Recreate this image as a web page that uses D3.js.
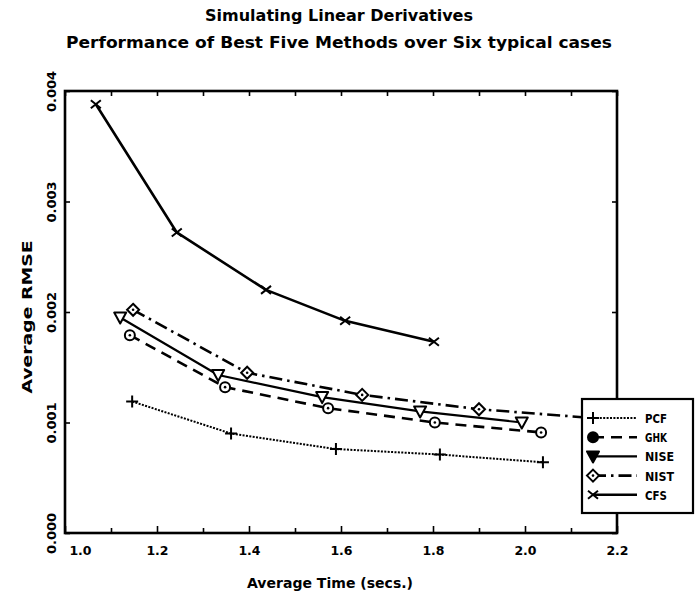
<!DOCTYPE html>
<html><head><meta charset="utf-8">
<script src="https://cdn.jsdelivr.net/npm/d3@7/dist/d3.min.js"></script>
<style>body{margin:0;background:#fff}svg{display:block}</style>
</head><body>
<svg id="chart" width="698" height="602"></svg>
<script>
// Method names, in legend order
const methods = ["PCF", "GHK", "NISE", "NIST", "CFS"];

// Average time (secs.) per setting, for each method
const pcfTime  = [1.146, 1.361, 1.589, 1.815, 2.039];
const ghkTime  = [1.141, 1.348, 1.572, 1.804, 2.035];
const niseTime = [1.120, 1.333, 1.559, 1.772, 1.993];
const nistTime = [1.148, 1.396, 1.646, 1.900, 2.150];
const cfsTime  = [1.067, 1.243, 1.437, 1.609, 1.802];

// Average RMSE per setting, for each method
const pcfRmse  = [0.00119, 0.00090, 0.00076, 0.00071, 0.00064];
const ghkRmse  = [0.00179, 0.00132, 0.00113, 0.00100, 0.00091];
const niseRmse = [0.00195, 0.00143, 0.00123, 0.00110, 0.00100];
const nistRmse = [0.00202, 0.00145, 0.00125, 0.00112, 0.00104];
const cfsRmse  = [0.00388, 0.00272, 0.00220, 0.00192, 0.00173];

// Axis ticks
const xTickLabels = [1.0, 1.2, 1.4, 1.6, 1.8, 2.0, 2.2];
const xMinorTicks = [1.0, 1.1, 1.2, 1.3, 1.4, 1.5, 1.6, 1.7, 1.8, 1.9, 2.0, 2.1, 2.2];
const yTickLabels = [0.000, 0.001, 0.002, 0.003, 0.004];

const titleLines = ["Simulating Linear Derivatives",
                    "Performance of Best Five Methods over Six typical cases"];
const xTitle = "Average Time (secs.)";
const yTitle = "Average RMSE";

const times = [pcfTime, ghkTime, niseTime, nistTime, cfsTime];
const rmses = [pcfRmse, ghkRmse, niseRmse, nistRmse, cfsRmse];

// Line / marker styles per method
const styles = {
  PCF:  {dash: "2,1.4",          width: 2.0, marker: "plus"},
  GHK:  {dash: "11,7",           width: 2.6, marker: "circle"},
  NISE: {dash: null,             width: 2.2, marker: "triangle"},
  NIST: {dash: "13,5,2.5,5",     width: 2.6, marker: "diamond"},
  CFS:  {dash: null,             width: 2.6, marker: "cross"}
};

const FONT = "'DejaVu Sans', 'Noto Sans', sans-serif";
const plotLeft = 65, plotRight = 617, plotTop = 91, plotBottom = 533;

const x = d3.scaleLinear().domain([1.0, 2.2]).range([plotLeft, plotRight]);
const y = d3.scaleLinear().domain([0, 0.004]).range([plotBottom, plotTop]);

const svg = d3.select("#chart");
const ink = "#000";
const isMajor = d => xTickLabels.some(v => Math.abs(v - d) < 1e-9);

// Titles
svg.selectAll("text.title").data(titleLines).join("text")
  .attr("class", "title")
  .attr("x", 339).attr("y", (d, i) => 21 + i * 27)
  .attr("text-anchor", "middle")
  .attr("font-family", FONT).attr("font-weight", "bold").attr("font-size", 15)
  .attr("textLength", (d, i) => i === 0 ? 268 : 546)
  .attr("lengthAdjust", "spacingAndGlyphs")
  .attr("fill", ink)
  .text(d => d);

// Axes: ticks point inward on all four sides
const gx = svg.append("g").attr("transform", `translate(0,${plotBottom})`)
  .call(d3.axisBottom(x).tickValues(xMinorTicks).tickSize(-5).tickPadding(13)
    .tickFormat(d => isMajor(d) ? d3.format(".1f")(d) : ""));
gx.selectAll(".tick line").attr("y2", d => isMajor(d) ? -7 : -5);
gx.selectAll(".tick text")
  .attr("font-family", FONT).attr("font-weight", "bold").attr("font-size", 12.5)
  .attr("dx", d => d === 1.0 ? 15 : 0);

const gxTop = svg.append("g").attr("transform", `translate(0,${plotTop})`)
  .call(d3.axisTop(x).tickValues(xMinorTicks).tickSize(-5).tickFormat(""));

const gy = svg.append("g").attr("transform", `translate(${plotLeft},0)`)
  .call(d3.axisLeft(y).tickValues(yTickLabels).tickSize(-5).tickPadding(0)
    .tickFormat(d3.format(".3f")));
gy.selectAll(".tick text")
  .attr("font-family", FONT).attr("font-weight", "bold").attr("font-size", 13)
  .attr("text-anchor", "middle").attr("x", 0).attr("dy", 0)
  .attr("transform", "translate(-9,0) rotate(-90)");

const gyRight = svg.append("g").attr("transform", `translate(${plotRight},0)`)
  .call(d3.axisRight(y).tickValues(yTickLabels).tickSize(-5).tickFormat(""));

[gx, gxTop, gy, gyRight].forEach(g => {
  g.select(".domain").remove();
  g.selectAll(".tick line").attr("stroke", ink).attr("stroke-width", 1.6);
  g.selectAll(".tick text").attr("fill", ink);
});

// Frame
svg.append("rect")
  .attr("x", plotLeft).attr("y", plotTop)
  .attr("width", plotRight - plotLeft).attr("height", plotBottom - plotTop)
  .attr("fill", "none").attr("stroke", ink).attr("stroke-width", 2.6);

// Axis titles
svg.append("text")
  .attr("x", 330).attr("y", 588).attr("text-anchor", "middle")
  .attr("font-family", FONT).attr("font-weight", "bold").attr("font-size", 14)
  .attr("textLength", 166).attr("lengthAdjust", "spacingAndGlyphs")
  .attr("fill", ink).text(xTitle);
svg.append("text")
  .attr("transform", `translate(32,${(plotTop + plotBottom) / 2 + 5}) rotate(-90)`)
  .attr("text-anchor", "middle")
  .attr("font-family", FONT).attr("font-weight", "bold").attr("font-size", 14)
  .attr("textLength", 153).attr("lengthAdjust", "spacingAndGlyphs")
  .attr("fill", ink).text(yTitle);

// Marker drawing
function drawMarker(g, type, cx, cy, filled) {
  const sw = 2;
  const fill = filled ? ink : "#fff";
  if (type === "plus") {
    g.append("path").attr("d", `M${cx - 6},${cy}H${cx + 6}M${cx},${cy - 6}V${cy + 6}`)
      .attr("stroke", ink).attr("stroke-width", sw).attr("fill", "none");
  } else if (type === "cross") {
    g.append("path").attr("d", `M${cx - 5},${cy - 4}L${cx + 5},${cy + 4}M${cx - 5},${cy + 4}L${cx + 5},${cy - 4}`)
      .attr("stroke", ink).attr("stroke-width", sw).attr("fill", "none");
  } else if (type === "circle") {
    g.append("circle").attr("cx", cx).attr("cy", cy).attr("r", 5)
      .attr("fill", fill).attr("stroke", ink).attr("stroke-width", sw);
    if (!filled) g.append("circle").attr("cx", cx).attr("cy", cy).attr("r", 1.3).attr("fill", ink);
  } else if (type === "triangle") {
    g.append("path").attr("d", `M${cx - 6},${cy - 5}L${cx + 6},${cy - 5}L${cx},${cy + 6}Z`)
      .attr("fill", fill).attr("stroke", ink).attr("stroke-width", sw).attr("stroke-linejoin", "round");
  } else if (type === "diamond") {
    g.append("path").attr("d", `M${cx},${cy - 6}L${cx + 6},${cy}L${cx},${cy + 6}L${cx - 6},${cy}Z`)
      .attr("fill", "#fff").attr("stroke", ink).attr("stroke-width", sw);
    g.append("circle").attr("cx", cx).attr("cy", cy).attr("r", 1.3).attr("fill", ink);
  }
}

// Series lines and markers
const line = d3.line().x(d => x(d[0])).y(d => y(d[1]));
const plot = svg.append("g");
methods.forEach((m, i) => {
  const pts = times[i].map((t, j) => [t, rmses[i][j]]);
  const st = styles[m];
  plot.append("path").datum(pts)
    .attr("d", line)
    .attr("fill", "none").attr("stroke", ink)
    .attr("stroke-width", st.width)
    .attr("stroke-dasharray", st.dash)
    .attr("stroke-linejoin", "round");
  const mg = plot.append("g");
  pts.forEach(p => drawMarker(mg, st.marker, x(p[0]), y(p[1]), false));
});

// Legend box
const lg = svg.append("g");
lg.append("rect")
  .attr("x", 582).attr("y", 399).attr("width", 111).attr("height", 114)
  .attr("fill", "#fff").attr("stroke", ink).attr("stroke-width", 2.2);
methods.forEach((m, i) => {
  const ry = 418 + i * 19.2;
  const st = styles[m];
  lg.append("line")
    .attr("x1", 593).attr("x2", 637).attr("y1", ry).attr("y2", ry)
    .attr("stroke", ink).attr("stroke-width", st.width)
    .attr("stroke-dasharray", st.dash);
  drawMarker(lg, st.marker, 593, ry, true);
  lg.append("text")
    .attr("x", 645).attr("y", ry + 5)
    .attr("font-family", FONT).attr("font-weight", "bold").attr("font-size", 13)
    .attr("textLength", m.length === 3 ? 22 : 29).attr("lengthAdjust", "spacingAndGlyphs")
    .attr("fill", ink).text(m);
});
</script>
</body></html>
